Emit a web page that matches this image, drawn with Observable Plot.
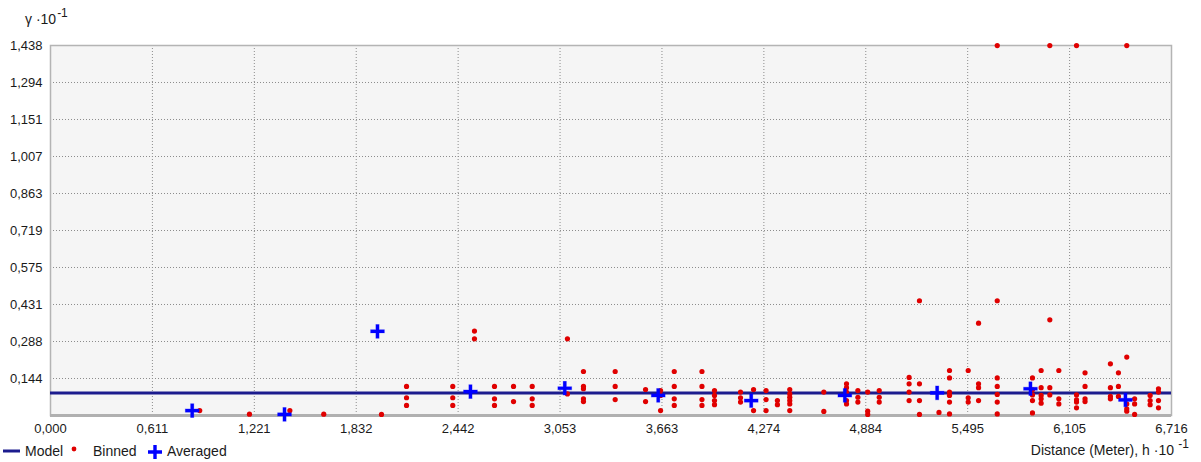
<!DOCTYPE html>
<html>
<head>
<meta charset="utf-8">
<script src="https://cdn.jsdelivr.net/npm/d3@7"></script>
<script src="https://cdn.jsdelivr.net/npm/@observablehq/plot@0.6"></script>
<style>
  html, body { margin: 0; padding: 0; background: #fff; }
  body { width: 1201px; height: 462px; position: relative; overflow: hidden; font-family: "Liberation Sans", Arial, sans-serif; color: #1a1a1a; }
  #chart { position: absolute; left: 0; top: 0; }
  .lbl { position: absolute; font-size: 14px; line-height: 16px; white-space: nowrap; color: #1a1a1a; }
  sup { font-size: 12px; vertical-align: 7px; line-height: 0; margin-left: 1px; }
</style>
</head>
<body>
<div id="chart"></div>
<div class="lbl" style="left:25px; top:11px;">γ ·10<sup>-1</sup></div>
<div class="lbl" style="right:12px; top:442px;">Distance (Meter), h ·10<sup> -1</sup></div>
<div id="legend"></div>
<script>
// ---- Data ----
const xTicks = [0, 0.6105, 1.2211, 1.8316, 2.4422, 3.0527, 3.6633, 4.2738, 4.8844, 5.4949, 6.1055, 6.716];
const xTickLabels = ["0,000", "0,611", "1,221", "1,832", "2,442", "3,053", "3,663", "4,274", "4,884", "5,495", "6,105", "6,716"];
const yTicks = [0.1438, 0.2876, 0.4315, 0.5753, 0.7191, 0.8629, 1.0067, 1.1506, 1.2944, 1.4382];
const yTickLabels = ["0,144", "0,288", "0,431", "0,575", "0,719", "0,863", "1,007", "1,151", "1,294", "1,438"];

const modelGamma = 0.087;

const binnedDistance = [
  0.894, 1.192, 1.434, 1.637, 1.983, 2.133, 2.410, 2.540, 2.660, 2.774,
  2.886, 3.097, 3.193, 3.383, 3.565, 3.655, 3.737, 3.903, 3.978, 4.134,
  4.212, 4.287, 4.355, 4.429, 4.633, 4.769, 4.837, 4.896, 4.965, 5.144,
  5.206, 5.323, 5.386, 5.498, 5.560, 5.672, 5.883, 5.935, 5.987, 6.041,
  6.147, 6.198, 6.350, 6.398, 6.448, 6.495, 6.588, 6.638
];
const binnedGamma = [
  [0.019], [0.005], [0.019], [0.005], [0.004],
  [0.113, 0.069, 0.039], [0.113, 0.069, 0.039], [0.328, 0.298],
  [0.113, 0.065, 0.039], [0.113, 0.054],
  [0.113, 0.065, 0.039], [0.298, 0.084], [0.171, 0.113, 0.104, 0.065, 0.054],
  [0.171, 0.113, 0.062], [0.101, 0.054], [0.097, 0.078, 0.019],
  [0.171, 0.113, 0.065, 0.039], [0.171, 0.113, 0.062, 0.039],
  [0.097, 0.078, 0.058, 0.042], [0.091, 0.069, 0.052],
  [0.101, 0.019], [0.097, 0.062, 0.019], [0.058, 0.042],
  [0.101, 0.084, 0.071, 0.058, 0.045, 0.019], [0.091, 0.016],
  [0.123, 0.108, 0.091, 0.058, 0.045], [0.097, 0.071, 0.052],
  [0.091, 0.017, 0.004], [0.097, 0.071, 0.052], [0.148, 0.123, 0.091, 0.058],
  [0.446, 0.123, 0.058, 0.004], [0.012],
  [0.175, 0.146, 0.091, 0.078, 0.052, 0.006], [0.175, 0.069, 0.052],
  [0.359, 0.123, 0.108, 0.058], [1.438, 0.446, 0.146, 0.113, 0.082, 0.052, 0.006],
  [0.146, 0.100, 0.080, 0.058, 0.010], [0.175, 0.108, 0.078, 0.065, 0.048],
  [1.438, 0.372, 0.108, 0.080], [0.175, 0.065, 0.045],
  [1.438, 0.080, 0.061, 0.052, 0.030], [0.166, 0.113, 0.065, 0.054],
  [0.201, 0.108, 0.074, 0.065], [0.166, 0.113, 0.074],
  [1.438, 0.227, 0.045, 0.026, 0.017], [0.065, 0.045, 0.004],
  [0.078, 0.058, 0.042], [0.104, 0.091, 0.058, 0.030]
];

const averagedDistance = [0.849, 1.402, 1.959, 2.516, 3.081, 3.641, 4.198, 4.759, 5.312, 5.871, 6.440];
const averagedGamma    = [0.019, 0.004, 0.327, 0.093, 0.106, 0.078, 0.058, 0.078, 0.088, 0.104, 0.061];

// ---- Tables built from the arrays ----
const binned = binnedDistance.flatMap((h, i) => binnedGamma[i].map(g => ({h, g})));
const averaged = averagedDistance.map((h, i) => ({h, g: averagedGamma[i]}));
const xLabelOf = new Map(xTicks.map((t, i) => [t, xTickLabels[i]]));
const yLabelOf = new Map(yTicks.map((t, i) => [t, yTickLabels[i]]));

const navy = "#1c1c8e";
const red = "#e00000";
const blue = "#0000ff";

const chart = Plot.plot({
  width: 1201,
  height: 440,
  marginLeft: 50,
  marginRight: 30,
  marginTop: 45,
  marginBottom: 25,
  style: {fontFamily: "'Liberation Sans', Arial, sans-serif", fontSize: "13px", color: "#1a1a1a", background: "transparent"},
  x: {domain: [0, 6.716], axis: null},
  y: {domain: [0, 1.4382], axis: null},
  marks: [
    Plot.frame({fill: "#f5f5f5", stroke: null}),
    Plot.gridX(xTicks.slice(1, -1), {stroke: "#8c8c8c", strokeOpacity: 1, strokeDasharray: "1,2"}),
    Plot.gridY(yTicks.slice(0, -1), {stroke: "#8c8c8c", strokeOpacity: 1, strokeDasharray: "1,2"}),
    Plot.frame({stroke: "#b4b4b4", strokeWidth: 1.5}),
    Plot.ruleY([0], {stroke: "#b0b0b0", strokeWidth: 3}),
    Plot.axisY(yTicks, {tickSize: 0, tickPadding: 8, tickFormat: d => yLabelOf.get(d), fontSize: 13, fill: "#1a1a1a", label: null}),
    Plot.axisX(xTicks, {tickSize: 0, tickPadding: 8, tickFormat: d => xLabelOf.get(d), fontSize: 13, fill: "#1a1a1a", anchor: "bottom", label: null}),
    Plot.ruleY([modelGamma], {stroke: navy, strokeWidth: 3}),
    Plot.dot(binned, {x: "h", y: "g", r: 2.6, fill: red, stroke: null}),
    Plot.dot(averaged, {x: "h", y: "g", symbol: "plus", r: 4.8, stroke: blue, strokeWidth: 4, strokeOpacity: 0.35, strokeLinecap: "butt"}),
    Plot.dot(averaged, {x: "h", y: "g", symbol: "plus", r: 4.5, stroke: blue, strokeWidth: 3.2, strokeLinecap: "butt"})
  ]
});
document.getElementById("chart").appendChild(chart);

// ---- Legend (below the plot area) ----
const font = "'Liberation Sans', Arial, sans-serif";
const ls = d3.select("#legend").append("svg")
  .attr("width", 240).attr("height", 22)
  .style("position", "absolute").style("left", "0px").style("top", "440px");
ls.append("line").attr("x1", 3).attr("x2", 20).attr("y1", 11).attr("y2", 11)
  .attr("stroke", navy).attr("stroke-width", 3);
ls.append("text").attr("x", 25).attr("y", 16).text("Model")
  .attr("font-size", 14).attr("fill", "#1a1a1a").attr("font-family", font);
ls.append("circle").attr("cx", 74).attr("cy", 9).attr("r", 2.4).attr("fill", red);
ls.append("text").attr("x", 93).attr("y", 16).text("Binned")
  .attr("font-size", 14).attr("fill", "#1a1a1a").attr("font-family", font);
ls.append("path").attr("d", "M148,12H162M155,5V19").attr("stroke", blue).attr("stroke-width", 3.4).attr("fill", "none");
ls.append("text").attr("x", 167).attr("y", 16).text("Averaged")
  .attr("font-size", 14).attr("fill", "#1a1a1a").attr("font-family", font);
</script>
</body>
</html>
